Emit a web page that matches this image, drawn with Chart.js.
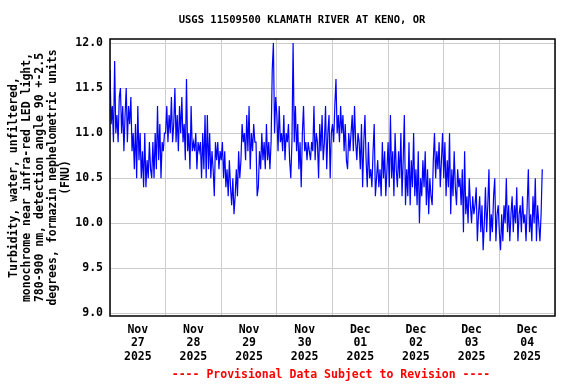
<!DOCTYPE html>
<html lang="en">
<head>
<meta charset="UTF-8">
<title>USGS 11509500 Klamath River at Keno</title>
<script src="https://cdn.jsdelivr.net/npm/chart.js@4.4.1/dist/chart.umd.min.js"></script>
<style>
  html, body { margin: 0; padding: 0; background: #fff; }
  #wrap { width: 576px; height: 384px; }
</style>
</head>
<body>
<div id="wrap"><canvas id="myChart" width="576" height="384"></canvas></div>
<script>
// turbidity (FNU), one value every 30 minutes, starting Nov 27 00:00
var nov27 = [11.7, 11.1, 11.3, 10.9, 11.8, 11.0, 11.2, 10.9, 11.4, 11.5, 11.0, 11.3, 10.8, 11.2, 11.5, 10.9, 11.3, 11.1, 11.4, 10.8, 11.0, 10.6, 11.1, 10.5, 11.3, 10.7, 11.0, 10.5, 10.8, 10.4, 11.0, 10.4, 10.7, 10.5, 10.9, 10.6, 10.5, 10.9, 10.5, 11.0, 10.6, 11.3, 10.7, 11.1, 10.5, 10.9, 10.8, 11.0];
var nov28 = [11.0, 11.3, 10.9, 11.2, 11.0, 11.4, 10.9, 11.1, 11.5, 10.9, 11.2, 10.8, 11.3, 11.0, 11.4, 10.9, 11.1, 10.7, 11.6, 10.8, 11.0, 10.6, 11.3, 10.8, 10.9, 10.8, 11.0, 10.6, 10.9, 10.8, 10.9, 10.5, 11.0, 10.6, 11.2, 10.5, 11.2, 10.6, 11.0, 10.5, 10.8, 10.6, 10.3, 10.9, 10.7, 10.9, 10.6, 10.8];
var nov29 = [10.7, 10.9, 10.5, 10.8, 10.4, 10.6, 10.3, 10.7, 10.4, 10.2, 10.5, 10.1, 10.3, 10.6, 10.3, 10.8, 10.5, 10.7, 11.1, 10.9, 11.0, 10.7, 11.2, 10.8, 11.3, 10.6, 11.0, 10.8, 11.1, 10.9, 10.9, 10.3, 10.4, 10.8, 10.6, 11.0, 10.7, 10.9, 10.6, 11.1, 10.7, 10.9, 10.6, 10.9, 11.7, 12.0, 11.0, 11.4];
var nov30 = [11.2, 10.8, 11.3, 10.9, 11.0, 10.8, 11.2, 10.7, 11.0, 10.9, 11.1, 10.7, 10.5, 10.9, 12.0, 10.9, 11.3, 10.8, 11.1, 10.6, 10.9, 10.4, 11.0, 11.3, 10.8, 10.9, 10.7, 10.9, 10.8, 10.7, 10.9, 10.8, 11.3, 10.7, 11.0, 10.9, 10.5, 11.1, 10.8, 11.2, 10.7, 10.9, 11.3, 10.6, 11.0, 11.2, 10.5, 11.0];
var dec01 = [11.1, 10.9, 11.3, 11.6, 11.0, 11.2, 10.9, 11.3, 11.0, 11.2, 10.8, 11.1, 10.7, 10.6, 11.0, 10.8, 11.0, 11.2, 10.8, 11.3, 10.9, 10.7, 11.0, 10.9, 10.6, 11.1, 10.4, 10.9, 11.2, 10.7, 10.4, 10.9, 10.5, 10.6, 10.4, 10.8, 11.1, 10.3, 10.5, 10.7, 10.4, 10.6, 10.3, 10.9, 10.5, 10.8, 10.3, 10.6];
var dec02 = [10.9, 10.4, 11.2, 10.5, 10.8, 10.3, 11.0, 10.6, 10.4, 10.8, 10.5, 11.0, 10.3, 10.7, 11.2, 10.2, 10.6, 10.3, 10.9, 10.2, 10.7, 10.4, 11.0, 10.3, 10.6, 10.2, 10.8, 10.0, 10.5, 10.3, 10.7, 10.4, 10.8, 10.2, 10.6, 10.1, 10.5, 10.3, 10.2, 10.7, 11.0, 10.5, 10.8, 10.6, 10.9, 10.4, 10.7, 11.0];
var dec03 = [10.5, 10.9, 10.3, 10.7, 10.4, 11.0, 10.1, 10.6, 10.3, 10.8, 10.4, 10.2, 10.6, 10.4, 10.5, 10.2, 10.6, 9.9, 10.8, 10.1, 10.3, 10.0, 10.5, 10.2, 10.0, 10.3, 10.1, 10.2, 10.4, 9.8, 10.1, 10.3, 9.9, 10.2, 9.7, 10.0, 10.4, 9.9, 10.2, 10.6, 9.8, 10.1, 9.9, 10.3, 10.5, 9.8, 10.1, 10.2];
var dec04 = [9.9, 9.7, 10.1, 9.8, 10.2, 10.0, 10.5, 9.9, 10.2, 9.8, 10.1, 10.3, 9.9, 10.2, 10.0, 10.4, 9.8, 10.1, 10.2, 9.9, 10.3, 10.0, 10.1, 9.8, 10.2, 10.6, 9.9, 10.1, 9.8, 10.3, 10.0, 10.5, 9.8, 10.2, 10.0, 9.8, 10.1, 10.6];

var dayMonths = ['Nov', 'Nov', 'Nov', 'Nov', 'Dec', 'Dec', 'Dec', 'Dec'];
var dayNums = ['27', '28', '29', '30', '01', '02', '03', '04'];
var dayYears = ['2025', '2025', '2025', '2025', '2025', '2025', '2025', '2025'];
var yTicks = [9.0, 9.5, 10.0, 10.5, 11.0, 11.5, 12.0];

var titleText = 'USGS 11509500 KLAMATH RIVER AT KENO, OR';
var footText = '---- Provisional Data Subject to Revision ----';
var yTitle = ['Turbidity, water, unfiltered,', 'monochrome near infra-red LED light,',
              '780-900 nm, detection angle 90 +-2.5', 'degrees, formazin nephelometric units', '(FNU)'];

var allValues = [].concat(nov27, nov28, nov29, nov30, dec01, dec02, dec03, dec04);
// x = hours since Nov 27 00:00
var points = allValues.map(function(v, i) { return { x: i * 0.5, y: v }; });

var monoFont = '"DejaVu Sans Mono", "Liberation Mono", monospace';

// title, footer and plot frame
var decorPlugin = {
    id: 'decor',
    afterDraw: function(chart) {
        var ctx = chart.ctx;
        var a = chart.chartArea;
        ctx.save();
        ctx.strokeStyle = '#000';
        ctx.lineWidth = 1.5;
        ctx.strokeRect(a.left, a.top, a.right - a.left, a.bottom - a.top);

        ctx.textAlign = 'center';
        ctx.textBaseline = 'middle';
        ctx.fillStyle = '#000';
        ctx.font = 'bold 10.5px ' + monoFont;
        ctx.fillText(titleText, 302, 20);

        ctx.fillStyle = '#ff0000';
        ctx.font = 'bold 11.5px ' + monoFont;
        ctx.fillText(footText, 331, 375);
        ctx.restore();
    }
};

var ctx = document.getElementById('myChart').getContext('2d');
var myChart = new Chart(ctx, {
    type: 'line',
    data: {
        datasets: [{
            data: points,
            borderColor: '#0000ff',
            borderWidth: 1.2,
            pointRadius: 0,
            tension: 0,
            fill: false
        }]
    },
    options: {
        responsive: false,
        animation: false,
        events: [],
        layout: { padding: { top: 39, right: 21, bottom: 0, left: 0 } },
        plugins: {
            legend: { display: false },
            tooltip: { enabled: false }
        },
        scales: {
            x: {
                type: 'linear',
                min: 0,
                max: 192,
                afterFit: function(s) { s.height = 68; },
                afterBuildTicks: function(s) {
                    var t = [];
                    for (var h = 0; h <= 192; h += 12) t.push({ value: h });
                    s.ticks = t;
                },
                grid: {
                    drawTicks: false,
                    color: function(c) {
                        return (c.tick && c.tick.value % 24 === 0) ? '#cccccc' : 'rgba(0,0,0,0)';
                    },
                    lineWidth: 1
                },
                border: { display: false },
                ticks: {
                    autoSkip: false,
                    maxRotation: 0,
                    padding: 7,
                    color: '#000',
                    font: { family: monoFont, size: 11.5, weight: 'bold', lineHeight: '13.5px' },
                    callback: function(v) {
                        if (v % 24 !== 12) return '';
                        var d = Math.floor(v / 24);
                        return [dayMonths[d], dayNums[d], dayYears[d]];
                    }
                }
            },
            y: {
                min: 8.97,
                max: 12.045,
                afterFit: function(s) { s.width = 110; },
                afterBuildTicks: function(s) {
                    s.ticks = yTicks.map(function(v) { return { value: v }; });
                },
                grid: { drawTicks: false, color: '#cccccc', lineWidth: 1 },
                border: { display: false },
                ticks: {
                    padding: 7,
                    color: '#000',
                    font: { family: monoFont, size: 11.5, weight: 'bold' },
                    callback: function(v) { return v.toFixed(1); }
                },
                title: {
                    display: true,
                    text: yTitle,
                    color: '#000',
                    padding: { top: 8, bottom: 0 },
                    font: { family: monoFont, size: 11.5, weight: 'bold', lineHeight: '13px' }
                }
            }
        }
    },
    plugins: [decorPlugin]
});
</script>
</body>
</html>
